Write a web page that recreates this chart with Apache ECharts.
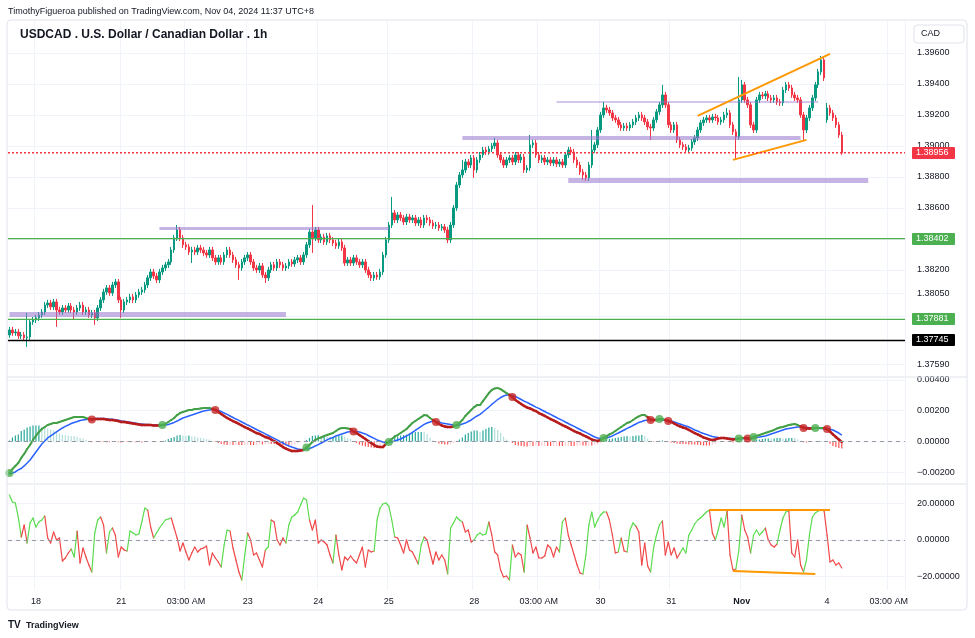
<!DOCTYPE html>
<html><head><meta charset="utf-8">
<script src="https://cdn.jsdelivr.net/npm/echarts@6/dist/echarts.min.js"></script>
<style>html,body{margin:0;padding:0;background:#fff}#c{width:975px;height:638px}</style>
</head><body><div id="c"></div>
<script>
// ---------------- DATA ----------------
const sessions = [['2024-10-17 15:00',38],['2024-10-21 05:00',120],['2024-10-28 05:00',120],['2024-11-04 06:00',27]];
const timeLabels = {'2024-10-18 00:00':'18','2024-10-21 05:00':'21','2024-10-22 03:00':'03:00 AM','2024-10-23 00:00':'23','2024-10-24 00:00':'24','2024-10-25 00:00':'25','2024-10-28 05:00':'28','2024-10-29 03:00':'03:00 AM','2024-10-30 00:00':'30','2024-10-31 00:00':'31','2024-11-01 00:00':'Nov','2024-11-04 06:00':'4','2024-11-05 03:00':'03:00 AM'};

const opens = [
1.37781,1.37813,1.37794,1.37800,1.37775,1.37781,1.37762,1.37768,1.37865,1.37878,
1.37891,1.37910,1.37929,1.37974,1.37987,1.37962,1.37994,1.37942,1.37929,1.37955,
1.37942,1.37968,1.37942,1.37929,1.37955,1.37974,1.37929,1.37942,1.37910,1.37923,
1.37891,1.37955,1.38007,1.38058,1.38084,1.38052,1.38103,1.38123,1.38007,1.37942,
1.37994,1.38007,1.38026,1.38007,1.38039,1.38058,1.38071,1.38103,1.38149,1.38187,
1.38161,1.38136,1.38187,1.38213,1.38233,1.38252,1.38329,1.38407,1.38458,1.38407,
1.38362,1.38349,1.38316,1.38329,1.38316,1.38342,1.38329,1.38310,1.38297,1.38329,
1.38278,1.38252,1.38278,1.38252,1.38297,1.38329,1.38297,1.38265,1.38233,1.38213,
1.38252,1.38278,1.38297,1.38252,1.38213,1.38200,1.38226,1.38168,1.38149,1.38200,
1.38233,1.38213,1.38252,1.38233,1.38213,1.38226,1.38252,1.38239,1.38265,1.38278,
1.38252,1.38297,1.38362,1.38445,1.38407,1.38458,1.38394,1.38413,1.38381,1.38420,
1.38394,1.38374,1.38355,1.38381,1.38342,1.38245,1.38265,1.38245,1.38278,1.38252,
1.38233,1.38252,1.38200,1.38168,1.38149,1.38168,1.38155,1.38187,1.38297,1.38394,
1.38490,1.38568,1.38523,1.38555,1.38536,1.38510,1.38542,1.38523,1.38536,1.38503,
1.38523,1.38490,1.38536,1.38523,1.38503,1.38484,1.38490,1.38471,1.38478,1.38458,
1.38394,1.38490,1.38600,1.38748,1.38813,1.38845,1.38897,1.38877,1.38923,1.38845,
1.38910,1.38942,1.38974,1.38961,1.38981,1.39000,1.39019,1.38942,1.38910,1.38877,
1.38910,1.38923,1.38897,1.38942,1.38910,1.38929,1.38845,1.38858,1.39007,1.39019,
1.38942,1.38910,1.38923,1.38897,1.38910,1.38890,1.38910,1.38884,1.38897,1.38877,
1.38942,1.38974,1.38961,1.38910,1.38877,1.38832,1.38813,1.38794,1.38877,1.38974,
1.39007,1.39103,1.39200,1.39245,1.39232,1.39213,1.39181,1.39168,1.39136,1.39116,
1.39129,1.39116,1.39136,1.39155,1.39181,1.39200,1.39181,1.39155,1.39123,1.39116,
1.39168,1.39220,1.39265,1.39329,1.39265,1.39136,1.39103,1.39136,1.39039,1.39007,
1.38994,1.38974,1.38987,1.39026,1.39052,1.39103,1.39149,1.39168,1.39181,1.39168,
1.39187,1.39181,1.39155,1.39168,1.39200,1.39213,1.39136,1.39091,1.39058,1.39297,
1.39394,1.39297,1.39265,1.39136,1.39103,1.39297,1.39329,1.39323,1.39336,1.39310,
1.39297,1.39310,1.39284,1.39278,1.39361,1.39394,1.39374,1.39329,1.39310,1.39297,
1.39200,1.39103,1.39181,1.39245,1.39310,1.39394,1.39478,1.39555,1.39168,1.39245,
1.39213,1.39181,1.39136,1.39071];

const closes = [
1.37813,1.37794,1.37800,1.37775,1.37781,1.37762,1.37768,1.37865,1.37878,1.37891,
1.37910,1.37929,1.37974,1.37987,1.37962,1.37994,1.37942,1.37929,1.37955,1.37942,
1.37968,1.37942,1.37929,1.37955,1.37974,1.37929,1.37942,1.37910,1.37923,1.37891,
1.37955,1.38007,1.38058,1.38084,1.38052,1.38103,1.38123,1.38007,1.37942,1.37994,
1.38007,1.38026,1.38007,1.38039,1.38058,1.38071,1.38103,1.38149,1.38187,1.38161,
1.38136,1.38187,1.38213,1.38233,1.38252,1.38329,1.38407,1.38458,1.38407,1.38362,
1.38349,1.38316,1.38329,1.38316,1.38342,1.38329,1.38310,1.38297,1.38329,1.38278,
1.38252,1.38278,1.38252,1.38297,1.38329,1.38297,1.38265,1.38233,1.38213,1.38252,
1.38278,1.38297,1.38252,1.38213,1.38200,1.38226,1.38168,1.38149,1.38200,1.38233,
1.38213,1.38252,1.38233,1.38213,1.38226,1.38252,1.38239,1.38265,1.38278,1.38252,
1.38297,1.38362,1.38445,1.38407,1.38458,1.38394,1.38413,1.38381,1.38420,1.38394,
1.38374,1.38355,1.38381,1.38342,1.38245,1.38265,1.38245,1.38278,1.38252,1.38233,
1.38252,1.38200,1.38168,1.38149,1.38168,1.38155,1.38187,1.38297,1.38394,1.38490,
1.38568,1.38523,1.38555,1.38536,1.38510,1.38542,1.38523,1.38536,1.38503,1.38523,
1.38490,1.38536,1.38523,1.38503,1.38484,1.38490,1.38471,1.38478,1.38458,1.38394,
1.38490,1.38600,1.38748,1.38813,1.38845,1.38897,1.38877,1.38923,1.38845,1.38910,
1.38942,1.38974,1.38961,1.38981,1.39000,1.39019,1.38942,1.38910,1.38877,1.38910,
1.38923,1.38897,1.38942,1.38910,1.38929,1.38845,1.38858,1.39007,1.39019,1.38942,
1.38910,1.38923,1.38897,1.38910,1.38890,1.38910,1.38884,1.38897,1.38877,1.38942,
1.38974,1.38961,1.38910,1.38877,1.38832,1.38813,1.38794,1.38877,1.38974,1.39007,
1.39103,1.39200,1.39245,1.39232,1.39213,1.39181,1.39168,1.39136,1.39116,1.39129,
1.39116,1.39136,1.39155,1.39181,1.39200,1.39181,1.39155,1.39123,1.39116,1.39168,
1.39220,1.39265,1.39329,1.39265,1.39136,1.39103,1.39136,1.39039,1.39007,1.38994,
1.38974,1.38987,1.39026,1.39052,1.39103,1.39149,1.39168,1.39181,1.39168,1.39187,
1.39181,1.39155,1.39168,1.39200,1.39213,1.39136,1.39091,1.39058,1.39297,1.39394,
1.39297,1.39265,1.39136,1.39103,1.39297,1.39329,1.39323,1.39336,1.39310,1.39297,
1.39310,1.39284,1.39278,1.39361,1.39394,1.39374,1.39329,1.39310,1.39297,1.39200,
1.39103,1.39181,1.39245,1.39310,1.39394,1.39478,1.39555,1.39439,1.39245,1.39213,
1.39181,1.39136,1.39071,1.38956];

const lows = [
1.37762,1.37775,1.37775,1.37755,1.37755,1.37742,1.37704,1.37749,1.37846,1.37858,
1.37871,1.37891,1.37910,1.37955,1.37942,1.37942,1.37833,1.37910,1.37910,1.37923,
1.37923,1.37923,1.37878,1.37910,1.37936,1.37910,1.37910,1.37891,1.37891,1.37846,
1.37871,1.37936,1.37987,1.38039,1.38033,1.38033,1.38084,1.37987,1.37891,1.37923,
1.37974,1.37987,1.37987,1.37987,1.38020,1.38039,1.38052,1.38084,1.38129,1.38142,
1.38116,1.38116,1.38168,1.38194,1.38213,1.38233,1.38310,1.38387,1.38387,1.38342,
1.38329,1.38297,1.38245,1.38297,1.38297,1.38310,1.38291,1.38278,1.38278,1.38258,
1.38233,1.38233,1.38233,1.38233,1.38278,1.38278,1.38245,1.38213,1.38136,1.38194,
1.38233,1.38258,1.38233,1.38194,1.38181,1.38181,1.38149,1.38116,1.38129,1.38181,
1.38194,1.38194,1.38213,1.38194,1.38194,1.38207,1.38220,1.38220,1.38245,1.38233,
1.38233,1.38278,1.38342,1.38310,1.38387,1.38374,1.38374,1.38362,1.38362,1.38374,
1.38355,1.38336,1.38336,1.38323,1.38226,1.38226,1.38226,1.38226,1.38233,1.38213,
1.38213,1.38181,1.38149,1.38129,1.38129,1.38136,1.38136,1.38168,1.38278,1.38374,
1.38471,1.38503,1.38503,1.38516,1.38490,1.38490,1.38503,1.38503,1.38484,1.38484,
1.38471,1.38471,1.38503,1.38484,1.38465,1.38465,1.38452,1.38452,1.38439,1.38374,
1.38374,1.38471,1.38581,1.38729,1.38794,1.38826,1.38858,1.38858,1.38794,1.38826,
1.38890,1.38923,1.38942,1.38942,1.38961,1.38981,1.38923,1.38890,1.38858,1.38858,
1.38890,1.38877,1.38877,1.38890,1.38890,1.38826,1.38826,1.38839,1.38987,1.38923,
1.38890,1.38890,1.38877,1.38877,1.38871,1.38871,1.38865,1.38865,1.38858,1.38858,
1.38923,1.38942,1.38890,1.38858,1.38813,1.38781,1.38774,1.38774,1.38858,1.38955,
1.38987,1.39084,1.39181,1.39213,1.39194,1.39161,1.39149,1.39116,1.39097,1.39097,
1.39097,1.39097,1.39116,1.39136,1.39161,1.39161,1.39136,1.39103,1.39039,1.39097,
1.39149,1.39200,1.39245,1.39245,1.39116,1.39084,1.39084,1.39019,1.38987,1.38974,
1.38955,1.38955,1.38968,1.39007,1.39032,1.39084,1.39129,1.39149,1.39149,1.39149,
1.39161,1.39136,1.39136,1.39149,1.39181,1.39116,1.39071,1.38910,1.39039,1.39278,
1.39278,1.39245,1.39116,1.39084,1.39084,1.39278,1.39303,1.39303,1.39290,1.39278,
1.39278,1.39265,1.39258,1.39258,1.39342,1.39355,1.39310,1.39290,1.39278,1.39181,
1.39039,1.39084,1.39161,1.39226,1.39290,1.39374,1.39458,1.39419,1.39149,1.39194,
1.39161,1.39116,1.39052,1.38942];

const highs = [
1.37833,1.37833,1.37820,1.37820,1.37800,1.37800,1.37923,1.37884,1.37897,1.37910,
1.37929,1.37949,1.37994,1.38007,1.38007,1.38013,1.38013,1.37962,1.37974,1.37974,
1.37987,1.37987,1.37962,1.37974,1.37994,1.37994,1.37962,1.37962,1.37942,1.37942,
1.37974,1.38026,1.38078,1.38103,1.38103,1.38123,1.38142,1.38142,1.38026,1.38013,
1.38026,1.38046,1.38046,1.38058,1.38078,1.38091,1.38123,1.38168,1.38207,1.38207,
1.38181,1.38207,1.38233,1.38252,1.38271,1.38349,1.38426,1.38490,1.38478,1.38426,
1.38381,1.38368,1.38349,1.38349,1.38362,1.38362,1.38349,1.38329,1.38349,1.38349,
1.38297,1.38297,1.38297,1.38316,1.38349,1.38349,1.38316,1.38284,1.38252,1.38271,
1.38297,1.38316,1.38316,1.38271,1.38233,1.38245,1.38245,1.38187,1.38220,1.38252,
1.38252,1.38271,1.38271,1.38252,1.38245,1.38271,1.38271,1.38284,1.38297,1.38297,
1.38316,1.38381,1.38465,1.38619,1.38478,1.38478,1.38433,1.38433,1.38439,1.38439,
1.38413,1.38394,1.38400,1.38400,1.38362,1.38284,1.38284,1.38297,1.38297,1.38271,
1.38271,1.38271,1.38220,1.38187,1.38187,1.38187,1.38207,1.38316,1.38413,1.38510,
1.38671,1.38587,1.38574,1.38574,1.38555,1.38562,1.38562,1.38555,1.38555,1.38542,
1.38542,1.38555,1.38555,1.38542,1.38523,1.38510,1.38510,1.38497,1.38497,1.38478,
1.38510,1.38619,1.38768,1.38832,1.38910,1.38916,1.38916,1.38942,1.38942,1.38929,
1.38961,1.38994,1.38994,1.39000,1.39019,1.39052,1.39039,1.38961,1.38929,1.38929,
1.38942,1.38942,1.38961,1.38961,1.38948,1.38948,1.38877,1.39071,1.39039,1.39039,
1.38961,1.38942,1.38942,1.38929,1.38929,1.38929,1.38929,1.38916,1.38916,1.38961,
1.38994,1.38994,1.38981,1.38929,1.38897,1.38852,1.38832,1.38897,1.39103,1.39026,
1.39123,1.39220,1.39284,1.39265,1.39252,1.39232,1.39200,1.39187,1.39155,1.39149,
1.39149,1.39155,1.39174,1.39200,1.39220,1.39220,1.39200,1.39174,1.39142,1.39187,
1.39239,1.39284,1.39394,1.39348,1.39284,1.39155,1.39155,1.39155,1.39058,1.39026,
1.39013,1.39007,1.39045,1.39071,1.39123,1.39168,1.39187,1.39200,1.39200,1.39207,
1.39207,1.39200,1.39187,1.39220,1.39245,1.39232,1.39155,1.39110,1.39445,1.39426,
1.39413,1.39316,1.39284,1.39155,1.39316,1.39348,1.39348,1.39355,1.39355,1.39329,
1.39329,1.39329,1.39303,1.39381,1.39413,1.39413,1.39394,1.39348,1.39329,1.39316,
1.39220,1.39200,1.39265,1.39329,1.39413,1.39497,1.39581,1.39574,1.39278,1.39265,
1.39232,1.39200,1.39155,1.39091];

const macdLine = [
-0.00205,-0.00179,-0.00159,-0.00140,-0.00107,-0.00081,-0.00049,-0.00023,0.00010,0.00036,
0.00062,0.00081,0.00094,0.00107,0.00114,0.00120,0.00120,0.00127,0.00133,0.00140,
0.00146,0.00153,0.00159,0.00159,0.00159,0.00159,0.00153,0.00146,0.00143,0.00146,
0.00146,0.00146,0.00146,0.00143,0.00140,0.00140,0.00137,0.00133,0.00127,0.00127,
0.00124,0.00120,0.00117,0.00114,0.00111,0.00107,0.00107,0.00107,0.00107,0.00104,
0.00104,0.00104,0.00107,0.00114,0.00127,0.00140,0.00153,0.00172,0.00185,0.00192,
0.00198,0.00205,0.00205,0.00211,0.00211,0.00215,0.00218,0.00218,0.00218,0.00211,
0.00205,0.00192,0.00179,0.00166,0.00153,0.00143,0.00133,0.00124,0.00114,0.00104,
0.00094,0.00085,0.00075,0.00065,0.00055,0.00049,0.00039,0.00029,0.00023,0.00013,
0.00003,-0.00010,-0.00023,-0.00036,-0.00046,-0.00055,-0.00062,-0.00062,-0.00062,-0.00059,
-0.00055,-0.00039,-0.00023,-0.00003,0.00010,0.00020,0.00026,0.00036,0.00042,0.00049,
0.00055,0.00068,0.00081,0.00088,0.00088,0.00085,0.00081,0.00065,0.00055,0.00042,
0.00029,0.00016,0.00003,-0.00010,-0.00023,-0.00033,-0.00036,-0.00036,-0.00016,-0.00003,
0.00016,0.00033,0.00042,0.00055,0.00068,0.00081,0.00101,0.00120,0.00133,0.00146,
0.00159,0.00172,0.00169,0.00153,0.00140,0.00127,0.00114,0.00104,0.00098,0.00094,
0.00094,0.00098,0.00107,0.00120,0.00140,0.00166,0.00185,0.00205,0.00224,0.00237,
0.00237,0.00263,0.00289,0.00315,0.00335,0.00345,0.00348,0.00341,0.00328,0.00315,
0.00304,0.00289,0.00270,0.00257,0.00244,0.00231,0.00221,0.00215,0.00205,0.00198,
0.00185,0.00176,0.00166,0.00156,0.00146,0.00137,0.00127,0.00117,0.00107,0.00098,
0.00088,0.00078,0.00068,0.00059,0.00052,0.00042,0.00033,0.00023,0.00013,0.00007,
0.00003,0.00010,0.00023,0.00033,0.00046,0.00055,0.00068,0.00081,0.00094,0.00107,
0.00120,0.00127,0.00140,0.00153,0.00163,0.00172,0.00172,0.00159,0.00140,0.00140,
0.00140,0.00146,0.00146,0.00140,0.00133,0.00127,0.00117,0.00107,0.00098,0.00091,
0.00085,0.00075,0.00065,0.00055,0.00046,0.00036,0.00026,0.00020,0.00013,0.00010,
0.00013,0.00020,0.00023,0.00022,0.00020,0.00016,0.00013,0.00016,0.00020,0.00023,
0.00023,0.00019,0.00020,0.00029,0.00036,0.00042,0.00049,0.00055,0.00062,0.00068,
0.00075,0.00085,0.00091,0.00094,0.00101,0.00107,0.00111,0.00114,0.00107,0.00098,
0.00088,0.00085,0.00085,0.00085,0.00088,0.00088,0.00088,0.00086,0.00081,0.00065,
0.00046,0.00029,0.00013,-0.00003];

const signalLine = [
-0.00211,-0.00205,-0.00198,-0.00185,-0.00176,-0.00159,-0.00140,-0.00120,-0.00094,-0.00068,
-0.00042,-0.00016,0.00003,0.00023,0.00036,0.00049,0.00062,0.00075,0.00088,0.00098,
0.00107,0.00117,0.00124,0.00130,0.00137,0.00140,0.00143,0.00144,0.00148,0.00150,
0.00150,0.00150,0.00150,0.00148,0.00145,0.00144,0.00141,0.00138,0.00133,0.00131,
0.00128,0.00125,0.00122,0.00119,0.00116,0.00113,0.00111,0.00110,0.00109,0.00108,
0.00107,0.00106,0.00104,0.00107,0.00111,0.00117,0.00124,0.00133,0.00143,0.00153,
0.00159,0.00166,0.00172,0.00179,0.00185,0.00192,0.00198,0.00202,0.00205,0.00208,
0.00208,0.00202,0.00195,0.00185,0.00176,0.00166,0.00156,0.00146,0.00137,0.00127,
0.00117,0.00107,0.00098,0.00088,0.00078,0.00068,0.00059,0.00049,0.00039,0.00029,
0.00020,0.00010,0.00000,-0.00010,-0.00020,-0.00029,-0.00036,-0.00042,-0.00049,-0.00052,
-0.00052,-0.00049,-0.00046,-0.00039,-0.00029,-0.00020,-0.00010,0.00000,0.00010,0.00020,
0.00026,0.00036,0.00042,0.00049,0.00055,0.00062,0.00065,0.00068,0.00065,0.00062,
0.00055,0.00049,0.00039,0.00029,0.00020,0.00010,0.00003,-0.00003,-0.00007,-0.00007,
-0.00003,0.00003,0.00010,0.00016,0.00026,0.00036,0.00046,0.00059,0.00072,0.00085,
0.00098,0.00111,0.00120,0.00127,0.00133,0.00130,0.00127,0.00120,0.00117,0.00114,
0.00111,0.00107,0.00104,0.00107,0.00114,0.00120,0.00130,0.00140,0.00153,0.00166,
0.00176,0.00192,0.00208,0.00224,0.00241,0.00257,0.00273,0.00286,0.00296,0.00302,
0.00302,0.00299,0.00293,0.00283,0.00273,0.00263,0.00254,0.00244,0.00234,0.00224,
0.00215,0.00205,0.00195,0.00185,0.00176,0.00166,0.00156,0.00146,0.00137,0.00127,
0.00117,0.00107,0.00098,0.00088,0.00078,0.00068,0.00059,0.00049,0.00039,0.00029,
0.00023,0.00020,0.00020,0.00023,0.00029,0.00036,0.00046,0.00055,0.00065,0.00075,
0.00085,0.00094,0.00104,0.00114,0.00124,0.00130,0.00137,0.00140,0.00143,0.00143,
0.00142,0.00141,0.00140,0.00138,0.00135,0.00133,0.00127,0.00120,0.00114,0.00107,
0.00101,0.00094,0.00085,0.00075,0.00068,0.00059,0.00052,0.00046,0.00039,0.00033,
0.00029,0.00026,0.00024,0.00023,0.00021,0.00020,0.00019,0.00018,0.00018,0.00018,
0.00020,0.00020,0.00021,0.00023,0.00026,0.00029,0.00033,0.00036,0.00042,0.00049,
0.00055,0.00062,0.00068,0.00075,0.00081,0.00085,0.00088,0.00091,0.00094,0.00094,
0.00093,0.00091,0.00089,0.00088,0.00086,0.00086,0.00085,0.00085,0.00084,0.00080,
0.00075,0.00065,0.00055,0.00042];

const oscValues = [
24.66,20.82,20.27,12.60,1.64,8.22,-1.64,9.32,12.05,7.12,
9.86,10.96,13.15,1.10,-1.64,4.38,0.00,1.10,-11.51,-9.86,
-7.12,-4.93,-9.32,4.93,-12.60,-4.38,-9.32,-13.70,-17.53,3.84,
10.96,12.60,8.22,-7.12,4.38,6.58,2.74,-9.32,-3.84,-5.48,
-6.03,4.93,3.84,2.74,3.29,9.86,17.53,16.44,7.12,1.10,
3.84,6.58,8.77,10.96,11.51,12.05,6.58,1.10,-6.03,-1.64,
-6.58,-10.96,-7.12,-3.84,-6.58,-4.93,-4.38,-3.29,-13.70,-7.12,
-9.86,-12.05,-14.79,-2.74,5.48,4.93,-4.38,-10.96,-17.53,-21.92,
-8.22,3.84,0.00,-8.22,-7.12,-10.96,-14.79,-5.48,-3.84,10.96,
9.86,0.00,-2.74,1.10,-1.64,8.22,12.60,13.70,15.34,19.18,
23.01,21.92,10.96,5.48,10.96,-1.64,0.00,-1.10,-2.74,-8.22,
-12.60,2.74,-8.22,-16.44,-9.32,-10.96,-8.77,-10.96,-12.60,-8.22,
-3.84,-14.79,-5.48,-6.58,-6.03,10.96,17.53,19.73,20.27,18.63,
10.96,1.64,1.10,-2.74,-7.12,0.00,-5.48,-6.58,-9.86,-13.15,
-2.74,1.64,0.00,-6.58,-13.15,-6.58,-10.96,-8.22,-10.96,-18.63,
6.58,9.32,12.60,10.96,9.86,4.38,5.48,-1.10,0.00,2.74,
3.84,2.74,3.29,9.86,2.74,-6.58,-8.22,-16.44,-20.27,-19.73,
-21.92,-2.74,-9.32,-7.12,-8.22,-17.53,8.22,1.10,-7.12,-3.84,
-9.86,-9.86,-8.77,-2.74,-4.38,-9.32,-3.84,-6.58,9.86,12.05,
2.74,-2.74,-8.22,-13.70,-18.08,-18.63,-8.22,8.22,15.34,7.12,
10.96,13.70,15.34,15.34,10.96,2.74,-7.12,-6.58,1.10,-6.03,
-6.58,5.48,9.32,7.67,4.38,-13.70,-1.64,-14.25,-17.53,-4.38,
2.74,8.22,10.41,-8.22,-1.10,-8.22,-4.38,-9.86,-7.12,-4.38,
-7.12,2.74,5.48,8.77,10.96,12.05,13.70,15.34,16.44,3.84,
0.00,5.48,12.05,7.12,15.89,-8.22,-16.44,-15.89,-5.48,13.70,
5.48,1.64,-7.12,2.74,5.48,2.74,4.38,6.58,0.00,-2.74,
-3.84,-2.19,5.48,12.05,15.34,15.89,-7.12,-9.32,0.00,-13.70,
-17.53,-10.96,2.74,12.60,14.79,15.89,16.44,15.89,2.74,-12.05,
-10.96,-13.70,-12.60,-15.34];

// 1 = green segment, 0 = red segment (one per bar)
const oscColorFlags = '11111 00 111111 000000000 11 00000 111 00 11 00000 1111111 00 111111 00000000000000000 111 0000 11 000000 11 00000 11111111 00000000 1 0000000000000 1111111 00000000 11 00000000 11111 0000 11111 0000000 1 0000 1 00000000000 11 000000 11111111 0000 1 00 111 00000 1111 000000 1111111111 00 1111 000 11 000 11111 0000 1111 00000 1111111 000000';

const priceTicks = [1.396,1.394,1.392,1.390,1.388,1.386,1.384,1.382,1.3805,1.379,1.3759];
const macdTicks = [0.004,0.002,0,-0.002];
const oscTicks = [20,0,-20];

const priceLevels = [1.38956,1.38402,1.37881,1.37745];
const zoneStart = ['2024-10-17 15:00','2024-10-21 18:00','2024-10-26 01:00','2024-10-29 13:00','2024-10-29 09:00'];
const zoneEnd   = ['2024-10-23 13:00','2024-10-25 00:00','2024-11-01 20:00','2024-11-04 20:00','2024-11-02 02:00'];
const zoneLevel = [1.37912,1.38471,1.39052,1.38781,1.39284];
const trendMain = [[['2024-10-31 09:00',1.39194],['2024-11-04 07:00',1.39594]],[['2024-10-31 21:00',1.38910],['2024-11-01 22:00',1.39039]]];
const trendOsc  = [[['2024-10-31 13:00',16.6],['2024-11-04 07:00',16.6]],[['2024-10-31 21:00',-17.0],['2024-11-02 01:00',-18.6]]];

// ---------------- STYLES ----------------
const UP='#089981', DOWN='#f23645';
const levelStyles = [
  {color:'#f23645', dash:[2,2], bg:'#f23645'},
  {color:'#4caf50', dash:null, bg:'#4caf50'},
  {color:'#4caf50', dash:null, bg:'#4caf50'},
  {color:'#000000', dash:null, bg:'#000000'}];
const zoneWidths = [5,3,4,5,1.5];
const FONT = '"Liberation Sans", Arial, sans-serif';
const TXT = '#131722';

// ---------------- BUILD ----------------
function pad(n){return (n<10?'0':'')+n;}
const categories = [];
sessions.forEach(([start,count])=>{
  const [d,t]=start.split(' ');const [Y,M,D]=d.split('-').map(Number);const H=+t.split(':')[0];
  const ms=Date.UTC(Y,M-1,D,H);
  for(let k=0;k<count;k++){const dt=new Date(ms+k*3600000);
    categories.push(dt.getUTCFullYear()+'-'+pad(dt.getUTCMonth()+1)+'-'+pad(dt.getUTCDate())+' '+pad(dt.getUTCHours())+':00');}
});
const N = closes.length;
const candleData = closes.map((c,i)=>[opens[i],c,lows[i],highs[i]]);
const hist = macdLine.map((m,i)=>m-signalLine[i]);
const histData = hist.map((h,i)=>{
  const p = i>0?hist[i-1]:h;
  let col;
  if(h>=0) col = h>=p?'#26a69a':'#b2dfdb'; else col = h<=p?'#ff5252':'#ffcdd2';
  return {value:h,itemStyle:{color:col}};
});
const macdState = macdLine.map((m,i)=>m>=signalLine[i]?1:0);
const macdSegs=[]; for(let i=1;i<N;i++) macdSegs.push([i,macdLine[i-1],macdLine[i],macdState[i]]);
const crossDots=[]; for(let i=0;i<N;i++){ if(i===0||macdState[i]!==macdState[i-1]) crossDots.push({value:[i,macdLine[i]],itemStyle:{color:macdState[i]?'#4caf50':'#c62828'}}); }
const oscFlags = oscColorFlags.replace(/\s+/g,'').split('').map(Number);
const oscSegs=[]; for(let i=1;i<N;i++) oscSegs.push([i,oscValues[i-1],oscValues[i],oscFlags[i]]);

function fmt(v){const s=Math.abs(v).toFixed(5);return (v<-1e-12?'\u2212':'')+s;}
const isTick=(idx,val)=>!!timeLabels[val];

function xAxis(gi, showLabel){
  return {type:'category',gridIndex:gi,data:categories,boundaryGap:true,
    axisLine:{show:false},axisTick:{show:false},
    axisLabel:{show:showLabel,interval:isTick,margin:7,fontFamily:FONT,fontSize:9,color:TXT,
      formatter:(v)=>{const t=timeLabels[v]||'';return t==='Nov'?'{b|Nov}':t;},
      rich:{b:{fontWeight:'bold',fontFamily:FONT,fontSize:9,color:TXT}}},
    splitLine:{show:true,interval:isTick,lineStyle:{color:'#f0f3fa',width:1}}};
}
function yAxis(gi,min,max,ticks){
  return {type:'value',gridIndex:gi,position:'right',min:min,max:max,scale:true,
    axisLine:{show:false},axisTick:{show:false,customValues:ticks},
    axisLabel:{customValues:ticks,formatter:fmt,margin:12,fontFamily:FONT,fontSize:9,color:TXT},
    splitLine:{show:true,lineStyle:{color:'#f0f3fa',width:1}}};
}
function segRender(colUp,colDown,wUp,wDown){
  return function(params,api){
    const i=api.value(0);
    const p0=api.coord([i-1,api.value(1)]);const p1=api.coord([i,api.value(2)]);
    const up=api.value(3)===1;
    return {type:'line',shape:{x1:p0[0],y1:p0[1],x2:p1[0],y2:p1[1]},
      style:{stroke:up?colUp:colDown,lineWidth:up?wUp:wDown,lineCap:'round'}};
  };
}
// empty carrier series, one per drawing, each holding its own markLine
function carrier(xi, yi, markData, lineStyle, z){
  return {type:'line',xAxisIndex:xi,yAxisIndex:yi,data:[],silent:true,z:z||5,
    markLine:{silent:true,precision:5,symbol:['none','none'],animation:false,
      lineStyle:lineStyle,label:{show:false},emphasis:{disabled:true},data:markData}};
}
// horizontal price levels with their price-scale label
function levelRender(params, api){
  const k=api.value(2), v=api.value(1), s=levelStyles[k];
  const cs=params.coordSys;
  const y=api.coord([0,v])[1];
  const x0=cs.x, x1=cs.x+cs.width;
  return {type:'group',children:[
    {type:'line',shape:{x1:x0,y1:y,x2:x1,y2:y},style:{stroke:s.color,lineWidth:1.3,lineDash:s.dash}},
    {type:'rect',shape:{x:x1+7,y:Math.round(y)-6,width:43,height:12,r:1},style:{fill:s.bg}},
    {type:'text',style:{x:x1+11,y:Math.round(y),text:v.toFixed(5),fill:'#ffffff',font:'9px '+FONT,verticalAlign:'middle',align:'left'}}
  ]};
}

const drawSeries = [];
zoneLevel.forEach((v,k)=>{
  drawSeries.push(carrier(0,0,[[{coord:[zoneStart[k],v]},{coord:[zoneEnd[k],v]}]],
    {color:'rgba(149,117,205,0.55)',width:zoneWidths[k],type:'solid',opacity:1}));
});
trendMain.forEach(seg=>{
  drawSeries.push(carrier(0,0,[[{coord:seg[0]},{coord:seg[1]}]],{color:'#ff9800',width:2,type:'solid',opacity:1},6));
});
drawSeries.push(carrier(1,1,[{yAxis:0}],{color:'#9598a1',type:[4,4],width:1,opacity:1},2));
drawSeries.push(carrier(2,2,[{yAxis:0}],{color:'#9598a1',type:[4,4],width:1,opacity:1},2));
trendOsc.forEach(seg=>{
  drawSeries.push(carrier(2,2,[[{coord:seg[0]},{coord:seg[1]}]],{color:'#ff9800',width:2,type:'solid',opacity:1},6));
});
drawSeries.push({type:'custom',xAxisIndex:0,yAxisIndex:0,clip:false,silent:true,z:8,
  data:priceLevels.map((v,k)=>[0,v,k]),encode:{x:0,y:1},renderItem:levelRender});

const option = {
  animation:false,
  backgroundColor:'#ffffff',
  grid:[
    {left:8,right:70,top:21,height:355,outerBoundsMode:'none'},
    {left:8,right:70,top:378,height:105,outerBoundsMode:'none'},
    {left:8,right:70,top:485,height:105,outerBoundsMode:'none'}],
  xAxis:[xAxis(0,false),xAxis(1,false),xAxis(2,true)],
  yAxis:[yAxis(0,1.37516,1.39806,priceTicks),yAxis(1,-0.0027,0.00413,macdTicks),yAxis(2,-27.4,30.14,oscTicks)],
  graphic:[
    {type:'rect',shape:{x:7,y:20,width:960,height:590,r:4},style:{fill:'none',stroke:'#e0e3eb',lineWidth:1},silent:true,z:100},
    {type:'line',shape:{x1:7,y1:377,x2:967,y2:377},style:{stroke:'#e0e3eb',lineWidth:1},silent:true,z:100},
    {type:'line',shape:{x1:7,y1:484,x2:967,y2:484},style:{stroke:'#e0e3eb',lineWidth:1},silent:true,z:100},
    {type:'text',x:8,y:7,style:{text:'TimothyFigueroa published on TradingView.com, Nov 04, 2024 11:37 UTC+8',font:'9px '+FONT,fill:TXT},silent:true},
    {type:'text',x:20,y:29,style:{text:'USDCAD . U.S. Dollar / Canadian Dollar . 1h',font:'bold 12px '+FONT,fill:TXT},silent:true,z:100},
    {type:'rect',shape:{x:914,y:25,width:50,height:18,r:3},style:{fill:'#fff',stroke:'#e0e3eb',lineWidth:1},silent:true,z:100},
    {type:'text',x:921,y:29,style:{text:'CAD',font:'9px '+FONT,fill:TXT},silent:true,z:101},
    {type:'text',x:8,y:620,style:{text:'TV',font:'bold 10px '+FONT,fill:'#131722'},silent:true},
    {type:'text',x:26,y:621,style:{text:'TradingView',font:'bold 9px '+FONT,fill:'#131722'},silent:true}
  ],
  series:[
    {type:'candlestick',xAxisIndex:0,yAxisIndex:0,data:candleData,barWidth:2,
      itemStyle:{color:UP,color0:DOWN,borderColor:UP,borderColor0:DOWN,borderWidth:1}},
    {type:'bar',xAxisIndex:1,yAxisIndex:1,data:histData,barWidth:1.2},
    {type:'line',xAxisIndex:1,yAxisIndex:1,data:signalLine,showSymbol:false,symbol:'none',
      lineStyle:{color:'#2962ff',width:1.5},z:3},
    {type:'custom',xAxisIndex:1,yAxisIndex:1,data:macdSegs,encode:{x:0,y:[1,2]},
      renderItem:segRender('#43a047','#b71c1c',2,2.5),z:4},
    {type:'scatter',xAxisIndex:1,yAxisIndex:1,data:crossDots,symbolSize:8,z:5},
    {type:'custom',xAxisIndex:2,yAxisIndex:2,data:oscSegs,encode:{x:0,y:[1,2]},
      renderItem:segRender('#5bdc4f','#f04848',1.2,1.2),z:4}
  ].concat(drawSeries)
};
const chart = echarts.init(document.getElementById('c'));
chart.setOption(option);
</script></body></html>
